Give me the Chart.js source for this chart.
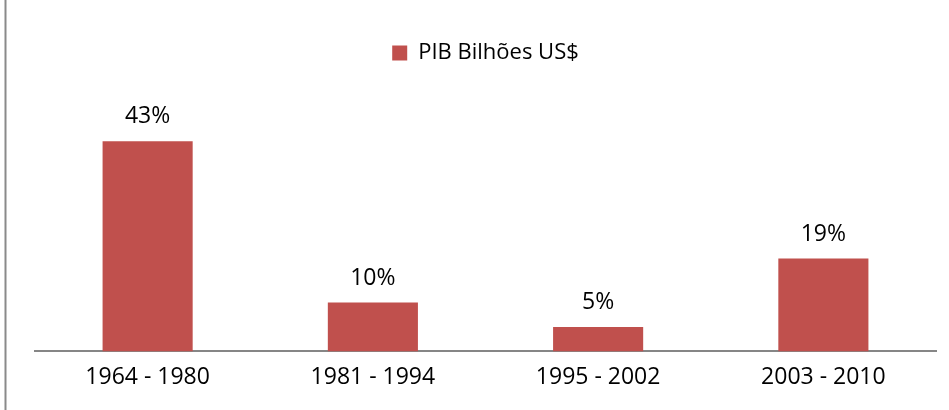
<!DOCTYPE html>
<html>
<head>
<meta charset="utf-8">
<script src="https://cdn.jsdelivr.net/npm/chart.js@4/dist/chart.umd.min.js"></script>
<style>
  html, body { margin: 0; padding: 0; background: #ffffff; }
  #wrap { width: 949px; height: 410px; position: relative; }
</style>
</head>
<body>
<div id="wrap"><canvas id="chart" width="949" height="410"></canvas></div>
<script>
// Períodos e crescimento do PIB (%)
const periods = ['1964 - 1980', '1981 - 1994', '1995 - 2002', '2003 - 2010'];
const pibGrowth = [43, 10, 5, 19];
const seriesName = 'PIB Bilhões US$';

const FONT = "'Open Sans', 'Noto Sans', sans-serif";

// Espaço extra entre a legenda e a área das barras
const legendGap = {
  id: 'legendGap',
  beforeInit(chart) {
    const originalFit = chart.legend.fit;
    chart.legend.fit = function () {
      originalFit.call(this);
      this.height += 33;
    };
  }
};

// Rótulos de valor acima de cada barra
const valueLabels = {
  id: 'valueLabels',
  afterDatasetsDraw(chart) {
    const ctx = chart.ctx;
    const meta = chart.getDatasetMeta(0);
    ctx.save();
    ctx.font = '23px ' + FONT;
    ctx.fillStyle = '#000000';
    ctx.textAlign = 'center';
    ctx.textBaseline = 'middle';
    meta.data.forEach((bar, i) => {
      ctx.fillText(pibGrowth[i] + '%', bar.x, bar.y - 24.5);
    });
    ctx.restore();
  }
};

// Borda esquerda do quadro
const frameEdge = {
  id: 'frameEdge',
  afterDraw(chart) {
    const ctx = chart.ctx;
    ctx.save();
    ctx.strokeStyle = '#8a8a8a';
    ctx.lineWidth = 2;
    ctx.beginPath();
    ctx.moveTo(5.5, 0);
    ctx.lineTo(5.5, chart.height);
    ctx.stroke();
    ctx.restore();
  }
};

new Chart(document.getElementById('chart'), {
  type: 'bar',
  data: {
    labels: periods,
    datasets: [{
      label: seriesName,
      data: pibGrowth,
      backgroundColor: '#C0504D',
      borderWidth: 0,
      categoryPercentage: 1.0,
      barPercentage: 0.4
    }]
  },
  options: {
    responsive: false,
    animation: false,
    layout: { padding: { left: 35, right: 13, top: 30, bottom: 7 } },
    plugins: {
      legend: {
        display: true,
        position: 'top',
        labels: {
          boxWidth: 15,
          boxHeight: 15,
          padding: 12,
          color: '#000000',
          font: { family: FONT, size: 22 }
        }
      },
      tooltip: { enabled: false }
    },
    scales: {
      x: {
        grid: { display: false, drawTicks: false },
        border: { display: true, color: '#868686', width: 2 },
        ticks: {
          color: '#000000',
          padding: 12,
          font: { family: FONT, size: 23 }
        }
      },
      y: {
        display: false,
        min: 0,
        max: 50
      }
    }
  },
  plugins: [legendGap, valueLabels, frameEdge]
});
</script>
</body>
</html>
